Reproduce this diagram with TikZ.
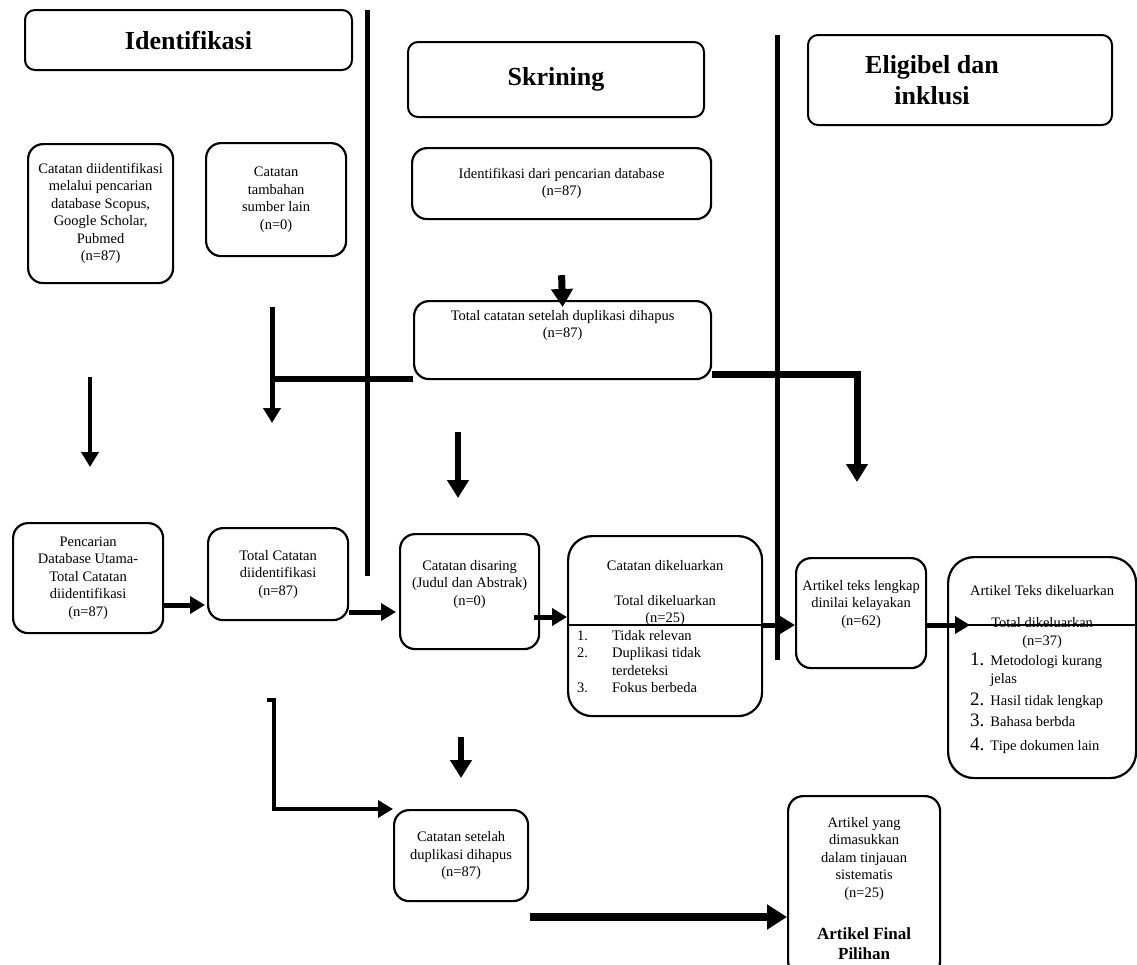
\documentclass[tikz,border=0pt]{standalone}
\usepackage{fontspec}
\setmainfont{Liberation Serif}
\usepackage{tikz}
\usetikzlibrary{arrows.meta, positioning, calc}

\newcommand{\bignum}[1]{{\fontsize{19}{19}\selectfont #1}}

\begin{document}
\begin{tikzpicture}[
    x=1pt, y=-1pt,
    phase/.style={draw, rounded corners=10pt, line width=2pt, font=\bfseries\fontsize{26}{31}\selectfont, align=center},
    block/.style={draw, rounded corners=15pt, line width=2.2pt, anchor=north west},
    txt/.style={font=\fontsize{14.5}{17.5}\selectfont, align=center, inner sep=0pt},
    divider/.style={line width=5pt},
    flow/.style={line width=5pt, -{Triangle[width=17pt,length=15pt]}},
    heavy/.style={line width=7pt, -{Triangle[width=21pt,length=18pt]}},
    thin/.style={line width=1.2pt}
]
    \useasboundingbox (0,0) rectangle (1137,964);

    % Phase headers
    \node[phase, minimum width=327pt, minimum height=60pt] (hid) at (188.5,40) {Identifikasi};
    \node[phase, minimum width=296pt, minimum height=75pt] (hskr) at (556,79.5) {Skrining};
    \node[phase, minimum width=304pt, minimum height=90pt] (helig) at (960,80) {};
    \node[phase, draw=none] (heligt) at ([xshift=-28pt]helig.center) {Eligibel dan\\inklusi};

    % Dividers
    \draw[divider] (367,10) -- (367,576);
    \draw[divider] (777,35) -- (777,660);

    % Identifikasi
    \node[block, txt, minimum width=145pt, minimum height=139pt] (srcdb) at (27,143)
        {Catatan diidentifikasi\\melalui pencarian\\database Scopus,\\Google Scholar,\\Pubmed\\(n=87)};
    \node[block, txt, minimum width=140pt, minimum height=113pt] (srcoth) at (205,142)
        {Catatan\\tambahan\\sumber lain\\(n=0)};
    \node[block, txt, minimum width=150pt, minimum height=110pt] (mainsrc) at (12,522)
        {Pencarian\\Database Utama-\\Total Catatan\\diidentifikasi\\(n=87)};
    \node[block, txt, minimum width=140pt, minimum height=92pt] (totid) at (207,527)
        {Total Catatan\\diidentifikasi\\(n=87)};

    % Skrining
    \node[block, txt, minimum width=299pt, minimum height=71pt] (iddb) at (411,147)
        {Identifikasi dari pencarian database\\(n=87)};
    \node[block, minimum width=297pt, minimum height=78pt] (dedup) at (413,300) {};
    \node[txt, below=10pt of dedup.north] (dedupt) {Total catatan setelah duplikasi dihapus\\(n=87)};
    \node[block, minimum width=139pt, minimum height=115pt] (screen) at (399,533) {};
    \node[txt, below=27pt of screen.north] (screent) {Catatan disaring\\(Judul dan Abstrak)\\(n=0)};
    \node[block, rounded corners=24pt, minimum width=194pt, minimum height=180pt] (excl) at (567,535) {};
    \node[txt, below=25pt of excl.north] (exclt) {Catatan dikeluarkan\\[17.5pt]Total dikeluarkan\\(n=25)};
    \node[txt, align=left, anchor=north west] (excll) at ([xshift=10pt, yshift=-93pt]excl.north west)
        {\begin{tabular}{@{}l@{\hspace{24pt}}l@{}}
            1. & Tidak relevan\\
            2. & Duplikasi tidak\\
               & terdeteksi\\
            3. & Fokus berbeda
         \end{tabular}};
    \node[block, txt, minimum width=134pt, minimum height=91pt] (afterdup) at (393,809)
        {Catatan setelah\\duplikasi dihapus\\(n=87)};

    % Eligibel dan inklusi
    \node[block, minimum width=130pt, minimum height=110pt] (fulltext) at (795,557) {};
    \node[txt, below=23pt of fulltext.north] (fulltextt) {Artikel teks lengkap\\dinilai kelayakan\\(n=62)};
    \node[block, rounded corners=26pt, minimum width=188pt, minimum height=221pt] (exclft) at (947,556) {};
    \node[txt, below=29pt of exclft.north] (exclftt) {Artikel Teks dikeluarkan\\[15pt]Total dikeluarkan\\(n=37)};
    \node[txt, align=left, anchor=north west] (exclftl) at ([xshift=23pt, yshift=-97pt]exclft.north west)
        {\begin{tabular}{@{}l@{\hspace{6pt}}l@{}}
            \bignum{1.} & Metodologi kurang\\
                        & jelas\\[4pt]
            \bignum{2.} & Hasil tidak lengkap\\[4pt]
            \bignum{3.} & Bahasa berbda\\[6pt]
            \bignum{4.} & Tipe dokumen lain
         \end{tabular}};
    \node[block, minimum width=152pt, minimum height=180pt] (final) at (787,795) {};
    \node[txt, below=22pt of final.north] (finalt) {Artikel yang\\dimasukkan\\dalam tinjauan\\sistematis\\(n=25)};
    \node[txt, font=\bfseries\fontsize{17}{20}\selectfont, below=132pt of final.north] (finalsel) {Artikel Final\\Pilihan};

    % Row levels
    \coordinate (yr1) at (0,605);
    \coordinate (yr2) at (0,612);
    \coordinate (yr3) at (0,617);
    \coordinate (yr4) at (0,625);
    \coordinate (ybot) at (0,917);

    % Flows, upper part
    \draw[heavy] ([yshift=-55pt]iddb.south) -- ([yshift=-7pt]dedup.north);
    \coordinate (ttop) at (272,307);
    \coordinate (tend) at (272,423);
    \draw[line width=6pt] ([yshift=1pt]dedup.south west) -- ([yshift=1pt]dedup.south west -| ttop);
    \draw[flow] (ttop) -- (tend);
    \coordinate (rend) at (857,482);
    \draw[heavy] ([yshift=6pt]dedup.south east) -| (rend);
    \coordinate (lstart) at (90,377);
    \coordinate (lend) at (90,467);
    \draw[flow, line width=4.5pt] (lstart) -- (lend);
    \coordinate (mstart) at (458,432);
    \coordinate (mend) at (458,498);
    \draw[heavy, line width=6pt] (mstart) -- (mend);

    % Flows, middle row
    \draw[flow] (mainsrc.east |- yr1) -- ([xshift=-2pt]totid.west |- yr1);
    \draw[flow] (totid.east |- yr2) -- ([xshift=-3pt]screen.west |- yr2);
    \draw[flow] ([xshift=-6pt]screen.east |- yr3) -- (excl.west |- yr3);
    \draw[thin] (excl.west |- yr4) -- (excl.east |- yr4);
    \draw[flow] (excl.east |- yr4) -- (fulltext.west |- yr4);
    \draw[flow] (fulltext.east |- yr4) -- ([xshift=23pt]exclft.west |- yr4);
    \draw[thin] ([xshift=10pt]exclft.west |- yr4) -- (exclft.east |- yr4);

    % Flows, lower part
    \coordinate (bk) at (267,700);
    \draw[flow, line width=4pt] (bk) -- ++(7,0) |- (afterdup.north west);
    \coordinate (dstart) at (461,737);
    \coordinate (dend) at (461,778);
    \draw[heavy, line width=6pt] (dstart) -- (dend);
    \draw[heavy, line width=8pt, -{Triangle[width=24pt,length=20pt]}] ([xshift=1pt]afterdup.east |- ybot) -- (final.west |- ybot);
\end{tikzpicture}
\end{document}
